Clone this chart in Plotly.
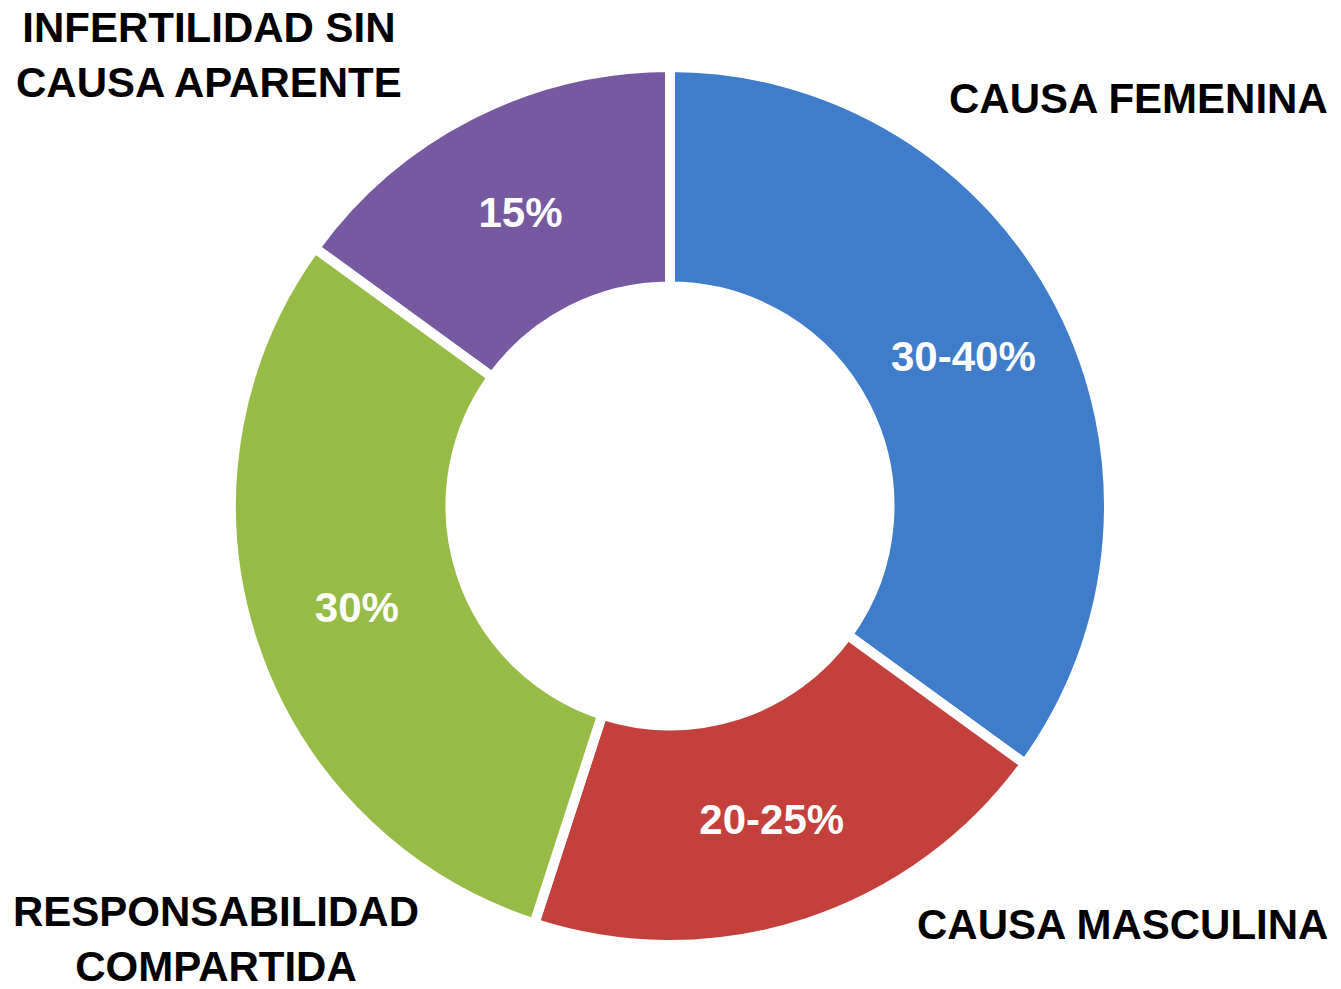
import plotly.graph_objects as go

categories = ["CAUSA FEMENINA", "CAUSA MASCULINA", "RESPONSABILIDAD COMPARTIDA", "INFERTILIDAD SIN CAUSA APARENTE"]
values = [35, 20, 30, 15]
value_labels = ["30-40%", "20-25%", "30%", "15%"]
colors = ["#3f7cc9", "#c4403c", "#97bb47", "#7759a1"]

FONT = "Liberation Sans, Arial, sans-serif"

fig = go.Figure()
fig.add_trace(go.Pie(
    labels=categories,
    values=values,
    customdata=value_labels,
    texttemplate="%{customdata}",
    textposition="inside",
    insidetextorientation="horizontal",
    textfont=dict(family=FONT, size=42, color="white", weight="bold"),
    hole=0.5,
    sort=False,
    direction="clockwise",
    rotation=0,
    marker=dict(colors=colors, line=dict(color="white", width=10)),
    showlegend=False,
    domain=dict(x=[231/1341, 1109/1341], y=[44/989, 922/989]),
    hoverinfo="label+text",
))

label_specs = [
    (categories[0], 1330, 989-98, "right", "middle", "right"),
    (categories[1], 1330, 989-924, "right", "middle", "right"),
    ("RESPONSABILIDAD<br>COMPARTIDA", 216, 989-939, "center", "middle", "center"),
    ("INFERTILIDAD SIN<br>CAUSA APARENTE", 209, 989-55, "center", "middle", "center"),
]
for text, x, y, xa, ya, align in label_specs:
    fig.add_annotation(
        text=text, x=x/1341, y=y/989, xref="paper", yref="paper",
        xanchor=xa, yanchor=ya, align=align, showarrow=False,
        font=dict(family=FONT, size=42, color="black", weight="bold"),
    )

fig.update_layout(
    width=1341, height=989,
    margin=dict(l=0, r=0, t=0, b=0),
    paper_bgcolor="white", plot_bgcolor="white",
)

fig.write_html("out.html")
